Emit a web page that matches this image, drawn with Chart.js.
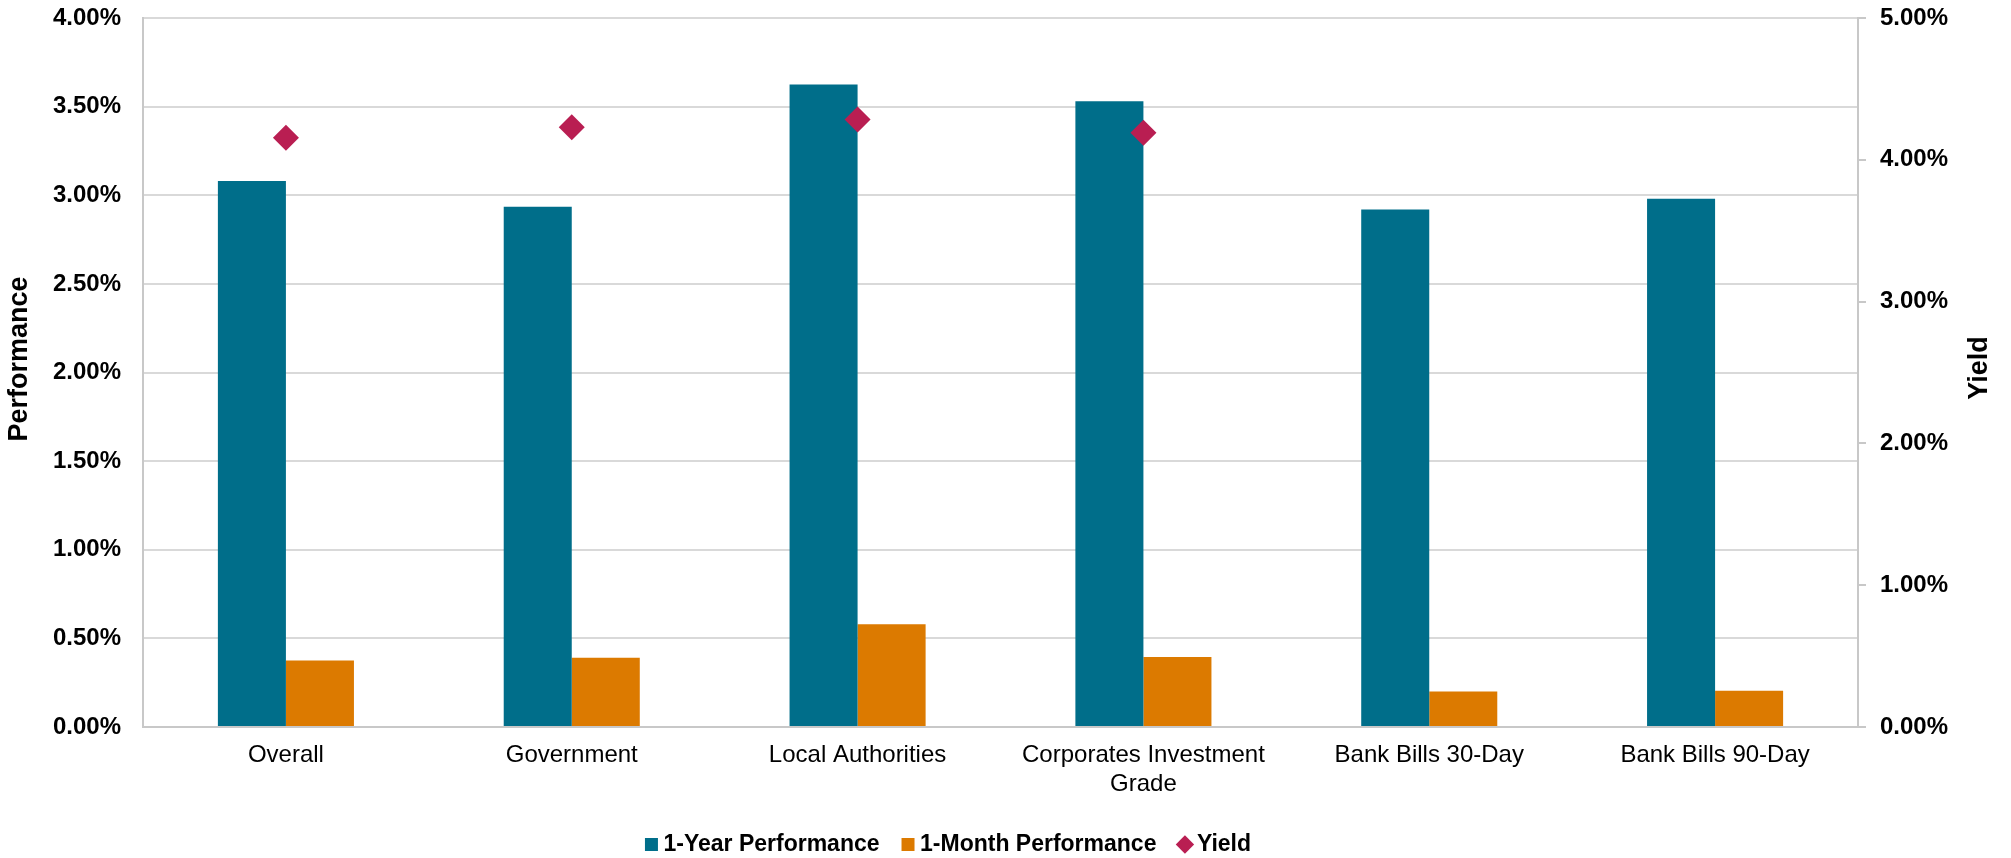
<!DOCTYPE html>
<html>
<head>
<meta charset="utf-8">
<script src="https://cdn.jsdelivr.net/npm/chart.js@4/dist/chart.umd.min.js"></script>
<style>
  html, body { margin: 0; padding: 0; background: #fff; }
  #wrap { width: 2011px; height: 858px; position: relative; }
</style>
</head>
<body>
<div id="wrap"><canvas id="myChart" width="2011" height="858"></canvas></div>
<script>
var categories = [
	"Overall",
	"Government",
	"Local Authorities",
	["Corporates Investment", "Grade"],
	"Bank Bills 30-Day",
	"Bank Bills 90-Day"
];
var oneYear = [3.08, 2.935, 3.625, 3.53, 2.92, 2.98];
var oneMonth = [0.375, 0.39, 0.58, 0.395, 0.20, 0.205];
var yieldVals = [4.155, 4.23, 4.285, 4.19, null, null];
var leftTicks = [0, 0.5, 1, 1.5, 2, 2.5, 3, 3.5, 4];
var rightTicks = [0, 1, 2, 3, 4, 5];

var gridGrey = "#d9d9d9";
var axisGrey = "#c8c8c8";
var legendStyles = ["rect", "rect", "rectRot"];
var titleFont = "bold 27px 'Liberation Sans', Arial, sans-serif";

Chart.defaults.font.family = "'Liberation Sans', Arial, sans-serif";
Chart.defaults.color = "#000";

// both axis titles read bottom-to-top
var axisTitles = {
	id: "axisTitles",
	afterDraw: function(chart) {
		var ctx = chart.ctx;
		function vtext(txt, x, y) {
			ctx.save();
			ctx.translate(x, y);
			ctx.rotate(-Math.PI / 2);
			ctx.font = titleFont;
			ctx.fillStyle = "#000";
			ctx.textAlign = "center";
			ctx.textBaseline = "middle";
			ctx.fillText(txt, 0, 0);
			ctx.restore();
		}
		vtext("Performance", 20, 359);
		vtext("Yield", 1980, 368);
	}
};

function trimPad(scale) {
	scale.paddingTop = 14;
	scale.paddingBottom = 14;
}

var ctx = document.getElementById("myChart");
var myChart = new Chart(ctx, {
	type: "bar",
	data: {
		labels: categories,
		datasets: [{
			label: "1-Year Performance",
			data: oneYear,
			backgroundColor: "#006e8a",
			yAxisID: "y",
			order: 2
		}, {
			label: "1-Month Performance",
			data: oneMonth,
			backgroundColor: "#dc7a00",
			yAxisID: "y",
			order: 2
		}, {
			type: "line",
			label: "Yield",
			data: yieldVals,
			showLine: false,
			pointStyle: "rectRot",
			pointRadius: 13,
			pointHoverRadius: 13,
			backgroundColor: "#b91e52",
			borderColor: "#b91e52",
			borderWidth: 0,
			yAxisID: "y1",
			order: 1
		}]
	},
	options: {
		responsive: false,
		animation: false,
		categoryPercentage: 0.476,
		barPercentage: 1.0,
		// right padding only shifts the legend; mirrored y1 labels draw into it unclipped
		layout: { padding: { left: 0, right: 109, top: 18, bottom: -8 } },
		plugins: {
			tooltip: { enabled: false },
			legend: {
				position: "bottom",
				labels: {
					font: { size: 23, weight: "bold" },
					usePointStyle: true,
					boxWidth: 1,
					boxHeight: 13,
					padding: 28,
					sort: function(a, b) { return a.datasetIndex - b.datasetIndex; },
					generateLabels: function(chart) {
						var items = Chart.defaults.plugins.legend.labels.generateLabels(chart);
						items.forEach(function(it) {
							it.pointStyle = legendStyles[it.datasetIndex];
							it.lineWidth = 0;
						});
						return items;
					}
				}
			}
		},
		scales: {
			x: {
				grid: { display: false, drawTicks: false },
				border: { display: true, color: axisGrey, width: 2 },
				ticks: { font: { size: 24 }, padding: 14, maxRotation: 0, autoSkip: false },
				afterFit: function(scale) { scale.height = 78; }
			},
			y: {
				position: "left",
				min: 0,
				max: 4,
				afterBuildTicks: function(scale) {
					scale.ticks = leftTicks.map(function(v) { return { value: v }; });
				},
				grid: { color: gridGrey, lineWidth: 2, drawTicks: false },
				border: { display: true, color: axisGrey, width: 2 },
				ticks: {
					font: { size: 24, weight: "bold" },
					padding: 22,
					callback: function(v) { return v.toFixed(2) + "%"; }
				},
				afterFit: function(scale) { scale.width = 143; trimPad(scale); }
			},
			y1: {
				position: "right",
				min: 0,
				max: 5,
				afterBuildTicks: function(scale) {
					scale.ticks = rightTicks.map(function(v) { return { value: v }; });
				},
				grid: { drawOnChartArea: false, color: axisGrey, lineWidth: 2, tickLength: 8 },
				border: { display: true, color: axisGrey, width: 2 },
				ticks: {
					font: { size: 24, weight: "bold" },
					mirror: true,
					crossAlign: "near",
					padding: 90,
					callback: function(v) { return v.toFixed(2) + "%"; }
				},
				afterFit: function(scale) { scale.width = 44; trimPad(scale); }
			}
		}
	},
	plugins: [axisTitles]
});
</script>
</body>
</html>
